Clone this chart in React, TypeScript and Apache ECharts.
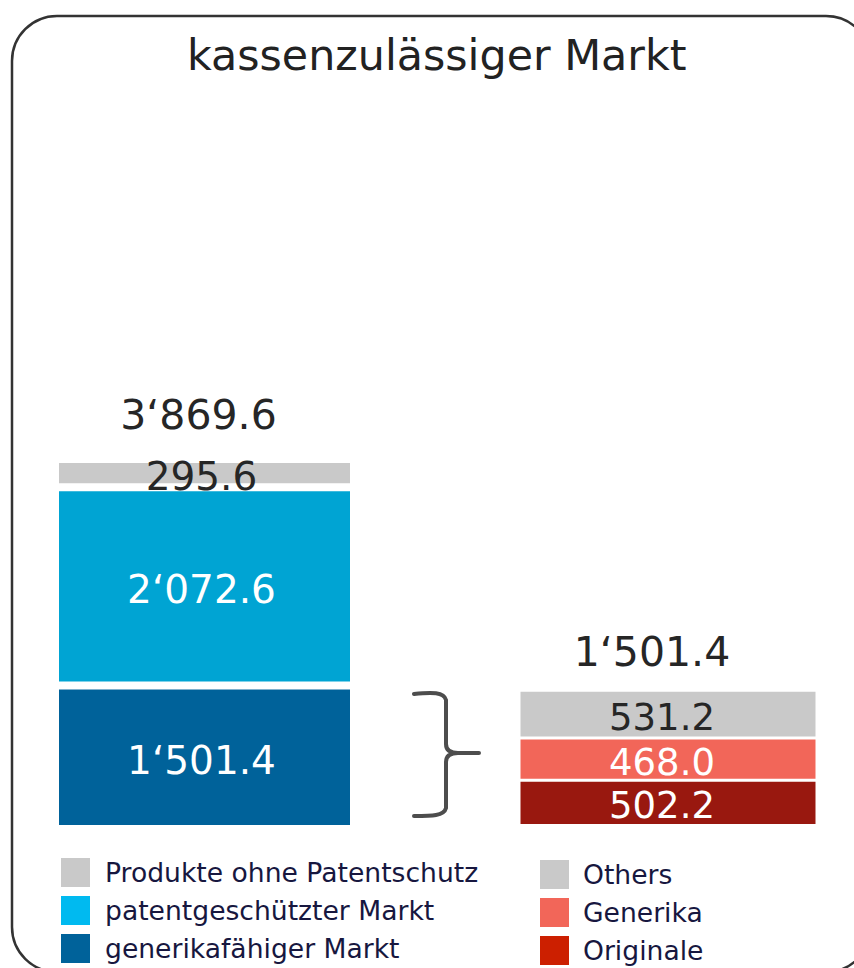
import React, { useEffect, useRef } from "react";
import * as echarts from "echarts";

// ---- data ----
const leftNames = ["generikafähiger Markt", "patentgeschützter Markt", "Produkte ohne Patentschutz"];
const leftValues = [1501.4, 2072.6, 295.6];
const rightNames = ["Originale", "Generika", "Others"];
const rightValues = [502.2, 468.0, 531.2];
const titleText = "kassenzulässiger Markt";

// ---- styles ----
const leftBarColors = ["#00629A", "#00A4D3", "#C9C9C9"];
const leftLegendColors = ["#00629A", "#00BAF0", "#C9C9C9"];
const rightBarColors = ["#99180F", "#F26659", "#C9C9C9"];
const rightLegendColors = ["#CC1F00", "#F26659", "#C9C9C9"];
const FONT = "DejaVu Sans";

const fmt = (v: number) => {
  const s = v.toFixed(1);
  const [i, d] = s.split(".");
  return i.replace(/\B(?=(\d{3})+(?!\d))/g, "\u2018") + "." + d;
};
const sum = (a: number[]) => a.reduce((x, y) => x + y, 0);

let registered = false;
function registerBrace() {
  if (registered) return;
  const d =
    "M0,2 C18,0 30,0 32,8 L32,52 C32,58 36,61 44,61 L65,61 M44,61 C36,61 32,64 32,70 L32,116 C30,124 18,124 0,124";
  echarts.graphic.registerShape("brace", echarts.graphic.extendPath(d, {}));
  registered = true;
}

export default function App() {
  const ref = useRef<HTMLDivElement>(null);
  useEffect(() => {
    if (!ref.current) return;
    registerBrace();
    const chart = echarts.init(ref.current, null, { renderer: "svg" });

    const labelColor = (c: string) => (c === "#C9C9C9" ? "#262626" : "#ffffff");

    const mkBars = (
      names: string[],
      values: number[],
      colors: string[],
      gridIdx: number,
      stack: string,
      borderWidth: number,
      fontSize: number,
      xOff: number
    ) =>
      names.map((n, i) => ({
        name: n,
        type: "bar",
        stack,
        xAxisIndex: gridIdx,
        yAxisIndex: gridIdx,
        barWidth: "100%",
        data: [values[i]],
        itemStyle: { color: colors[i], borderColor: "#ffffff", borderWidth },
        label: {
          show: true,
          position: "inside",
          offset: [xOff, 3],
          formatter: (p: any) => fmt(p.value),
          color: labelColor(colors[i]),
          fontFamily: FONT,
          fontSize,
        },
      }));

    const totalSeries = (values: number[], gridIdx: number, offset: number[]) => ({
      type: "scatter",
      xAxisIndex: gridIdx,
      yAxisIndex: gridIdx,
      symbolSize: 1,
      itemStyle: { color: "rgba(0,0,0,0)", opacity: 1 },
      data: [sum(values)],
      label: {
        show: true,
        position: "inside",
        offset,
        opacity: 1,
        formatter: (p: any) => fmt(p.value),
        color: "#262626",
        fontFamily: FONT,
        fontSize: 41,
      },
    });

    const legendCommon = {
      orient: "vertical",
      itemWidth: 31,
      itemHeight: 31,
      itemGap: 5,
      height: 200,
      padding: 0,
      icon: "rect",
      selectedMode: false,
    };

    chart.setOption({
      animation: false,
      title: {
        text: titleText,
        left: 182,
        top: 28,
        textStyle: { fontFamily: FONT, fontSize: 42.8, fontWeight: "normal", color: "#222222" },
      },
      grid: [
        { left: 55, top: 100, width: 299, height: 729 },
        { left: 519, top: 100, width: 298, height: 725.5 },
      ],
      xAxis: [
        { type: "category", gridIndex: 0, data: [""], show: false },
        { type: "category", gridIndex: 1, data: [""], show: false },
      ],
      yAxis: [
        { type: "value", gridIndex: 0, min: 0, max: 7624, show: false },
        { type: "value", gridIndex: 1, min: 0, max: 8054, show: false },
      ],
      legend: [
        {
          ...legendCommon,
          left: 59,
          top: 856,
          data: leftNames
            .map((n, i) => ({ name: n, itemStyle: { color: leftLegendColors[i] } }))
            .reverse(),
          textStyle: { fontFamily: FONT, fontSize: 26.6, color: "#17173F", padding: [6, 0, 0, 9] },
        },
        {
          ...legendCommon,
          left: 538,
          top: 858,
          data: rightNames
            .map((n, i) => ({ name: n, itemStyle: { color: rightLegendColors[i] } }))
            .reverse(),
          textStyle: { fontFamily: FONT, fontSize: 26.6, color: "#17173F", padding: [6, 0, 0, 8] },
        },
      ],
      series: [
        ...mkBars(leftNames, leftValues, leftBarColors, 0, "L", 4, 39, -3),
        ...mkBars(rightNames, rightValues, rightBarColors, 1, "R", 1.5, 37, -6),
        totalSeries(leftValues, 0, [-6, -44]),
        totalSeries(rightValues, 1, [-16, -38]),
      ],
      graphic: [
        {
          type: "rect",
          shape: { x: 12, y: 16, width: 859, height: 956, r: 45 },
          style: { fill: "none", stroke: "#333333", lineWidth: 2.5 },
          silent: true,
          z: -1,
        },
        {
          type: "brace",
          x: 414,
          y: 692,
          style: { fill: "none", stroke: "#4d4d4d", lineWidth: 4, lineCap: "round" },
          silent: true,
        },
      ],
    });
    return () => chart.dispose();
  }, []);
  return (
    <div
      ref={ref}
      style={{ position: "absolute", left: 0, top: 0, width: 854, height: 968 }}
    />
  );
}
